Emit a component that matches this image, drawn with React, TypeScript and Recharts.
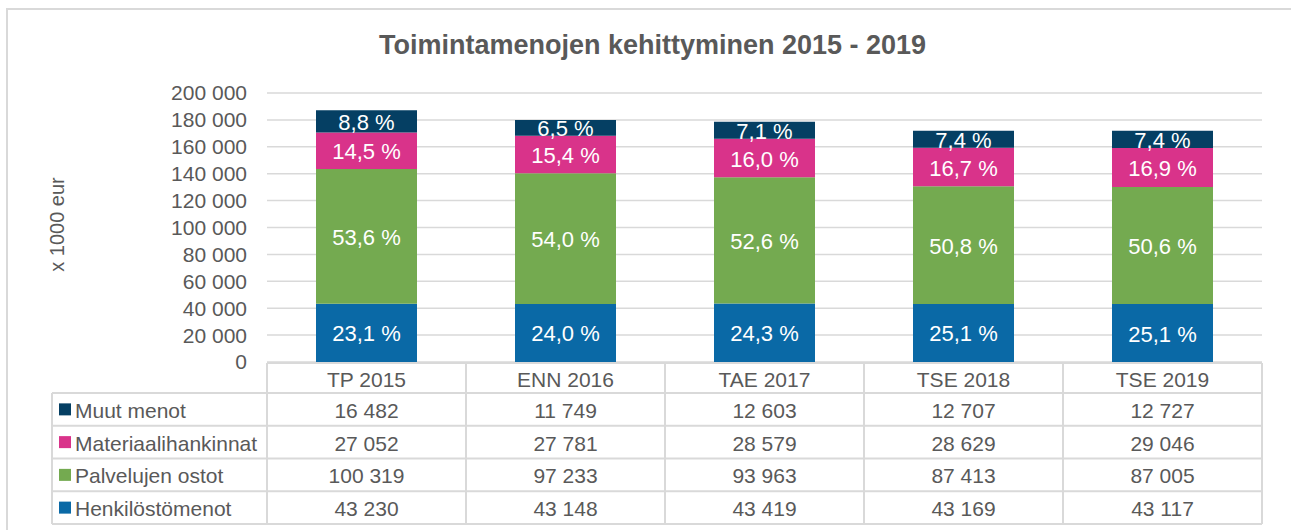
import React from 'react';
import { BarChart, Bar, XAxis, YAxis, CartesianGrid, LabelList } from 'recharts';

const categories = ['TP 2015', 'ENN 2016', 'TAE 2017', 'TSE 2018', 'TSE 2019'];
const henkilostomenot = [43230, 43148, 43419, 43169, 43117];
const palvelujenOstot = [100319, 97233, 93963, 87413, 87005];
const materiaalihankinnat = [27052, 27781, 28579, 28629, 29046];
const muutMenot = [16482, 11749, 12603, 12707, 12727];
const yTicks = [0, 20000, 40000, 60000, 80000, 100000, 120000, 140000, 160000, 180000, 200000];

const series = [
  { key: 'muut', name: 'Muut menot', values: muutMenot, color: '#053f63' },
  { key: 'materiaali', name: 'Materiaalihankinnat', values: materiaalihankinnat, color: '#d9338a' },
  { key: 'palvelu', name: 'Palvelujen ostot', values: palvelujenOstot, color: '#74aa50' },
  { key: 'henkilo', name: 'Henkilöstömenot', values: henkilostomenot, color: '#0a69a6' },
];
const stackOrder = ['henkilo', 'palvelu', 'materiaali', 'muut'];

const data = categories.map((c, i) => ({
  name: c,
  henkilo: henkilostomenot[i],
  palvelu: palvelujenOstot[i],
  materiaali: materiaalihankinnat[i],
  muut: muutMenot[i],
}));
const totals = categories.map((_, i) => henkilostomenot[i] + palvelujenOstot[i] + materiaalihankinnat[i] + muutMenot[i]);

const W = 1291;
const H = 530;
const LEFT = 267;
const RIGHT = 1262;
const TOP = 93;
const BOTTOM = 362;
const YAXIS_W = 227;
const colW = (RIGHT - LEFT) / categories.length;
const FONT = 'Liberation Sans, Arial, sans-serif';
const TXT = '#595959';
const GRID = '#d9d9d9';
const TFS = 21;

const fmt = (n: number) => String(Math.round(n)).replace(/\B(?=(\d{3})+(?!\d))/g, ' ');

const rowTop = 363;
const headerH = 30;
const rowH = 32.75;
const legendLeft = 52;

const TableTick = (props: any) => {
  const { x, index } = props;
  const left = x - colW / 2;
  const right = x + colW / 2;
  const bottom = rowTop + headerH + rowH * series.length;
  const els: any[] = [];
  els.push(
    <text key="h" x={x} y={rowTop + headerH / 2 + 1} textAnchor="middle" dominantBaseline="central" fontSize={TFS} fill={TXT} fontFamily={FONT}>
      {categories[index]}
    </text>
  );
  els.push(<line key="t" x1={left} x2={right} y1={rowTop} y2={rowTop} stroke={GRID} strokeWidth={2} />);
  els.push(<line key="r" x1={right} x2={right} y1={rowTop} y2={bottom} stroke={GRID} strokeWidth={2} />);
  if (index === 0) {
    els.push(<line key="l" x1={left} x2={left} y1={rowTop} y2={bottom} stroke={GRID} strokeWidth={2} />);
    els.push(<line key="ll" x1={legendLeft} x2={legendLeft} y1={rowTop + headerH} y2={bottom} stroke={GRID} strokeWidth={2} />);
  }
  series.forEach((s, r) => {
    const y0 = rowTop + headerH + rowH * r;
    const x0 = index === 0 ? legendLeft : left;
    els.push(<line key={'rl' + r} x1={x0} x2={right} y1={y0} y2={y0} stroke={GRID} strokeWidth={2} />);
    els.push(
      <text key={'v' + r} x={x} y={y0 + rowH / 2 + 1} textAnchor="middle" dominantBaseline="central" fontSize={TFS} fill={TXT} fontFamily={FONT}>
        {fmt(s.values[index])}
      </text>
    );
    if (index === 0) {
      els.push(<rect key={'sq' + r} x={59} y={y0 + rowH / 2 - 6} width={12} height={12} fill={s.color} />);
      els.push(
        <text key={'n' + r} x={75} y={y0 + rowH / 2 + 1} dominantBaseline="central" fontSize={TFS} fill={TXT} fontFamily={FONT}>
          {s.name}
        </text>
      );
    }
  });
  const xb0 = index === 0 ? legendLeft : left;
  els.push(<line key="b" x1={xb0} x2={right} y1={bottom} y2={bottom} stroke={GRID} strokeWidth={2} />);
  return <g>{els}</g>;
};

const pctLabel = (key: string) => (props: any) => {
  const { x, y, width, height, index } = props;
  const v = (data[index] as any)[key] as number;
  const pct = ((v / totals[index]) * 100).toFixed(1).replace('.', ',') + ' %';
  return (
    <text x={x + width / 2} y={y + height / 2 + 1} textAnchor="middle" dominantBaseline="central" fontSize={22} fill="#ffffff" fontFamily={FONT}>
      {pct}
    </text>
  );
};

const YLabel = (props: any) => {
  const vb = props.viewBox || {};
  const cy = (vb.y ?? TOP) + (vb.height ?? BOTTOM - TOP) / 2 - 3;
  return (
    <text x={57} y={cy} transform={`rotate(-90 57 ${cy})`} textAnchor="middle" dominantBaseline="central" fontSize={20} fill={TXT} fontFamily={FONT}>
      x 1000 eur
    </text>
  );
};

export default function App() {
  return (
    <div style={{ position: 'absolute', left: 0, top: 0, width: W, height: H, background: '#fff', overflow: 'hidden' }}>
      <div style={{ position: 'absolute', left: 6, top: 8, width: W, height: H, border: `2px solid ${GRID}`, boxSizing: 'border-box' }} />
      <div style={{ position: 'absolute', left: 7, top: 30, width: W, textAlign: 'center', fontFamily: FONT, fontWeight: 'bold', fontSize: 27, color: TXT, lineHeight: '31px' }}>
        Toimintamenojen kehittyminen 2015 - 2019
      </div>
      <div style={{ position: 'absolute', left: 0, top: 0 }}>
        <BarChart width={W} height={H} data={data} margin={{ top: TOP, right: W - RIGHT, left: LEFT - YAXIS_W, bottom: 6 }} barSize={101}>
          <CartesianGrid vertical={false} stroke={GRID} strokeWidth={1.5} />
          <XAxis dataKey="name" axisLine={false} tickLine={false} tickSize={0} tickMargin={0} height={H - BOTTOM - 6} tick={<TableTick />} interval={0} />
          <YAxis
            width={YAXIS_W}
            domain={[0, 200000]}
            ticks={yTicks}
            interval={0}
            axisLine={false}
            tickLine={false}
            tickMargin={14}
            tickFormatter={fmt}
            tick={{ fontSize: TFS, fill: TXT, fontFamily: FONT }}
            label={<YLabel />}
          />
          {stackOrder.map((k) => {
            const s = series.find((q) => q.key === k)!;
            return (
              <Bar key={k} dataKey={k} name={s.name} stackId="a" fill={s.color} isAnimationActive={false}>
                <LabelList dataKey={k} content={pctLabel(k)} />
              </Bar>
            );
          })}
        </BarChart>
      </div>
    </div>
  );
}
